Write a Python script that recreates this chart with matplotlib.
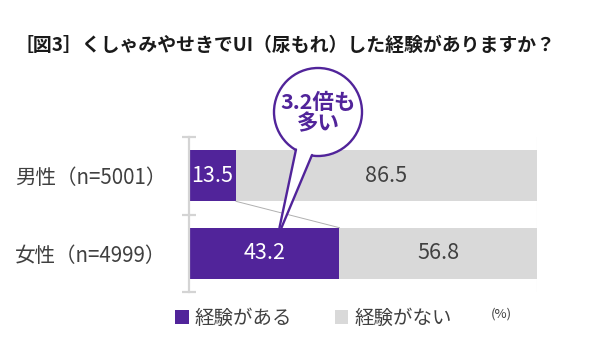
import matplotlib
matplotlib.use("Agg")
import matplotlib.pyplot as plt
from matplotlib.patches import Circle, Polygon
import numpy as np

plt.rcParams['font.family'] = ['Noto Sans CJK JP', 'DejaVu Sans']

title = "［図3］くしゃみやせきでUI（尿もれ）した経験がありますか？"
groups = ["女性（n=4999）", "男性（n=5001）"]
yes_pct = [43.2, 13.5]
no_pct = [56.8, 86.5]
series_names = ["経験がある", "経験がない"]
callout = "3.2倍も\n多い"

PURPLE = "#51249a"
GREY = "#d9d9d9"
TEXT = "#404040"
AXIS = "#d4d4d4"

W, H = 615, 347
fig = plt.figure(figsize=(W / 100, H / 100), dpi=100)

# bar area in pixel layout: x 189..537, y 137..292 (from top)
ax = fig.add_axes([189 / W, (H - 292) / H, 348 / W, 155 / H])
ypos = np.arange(len(groups))
bh = 0.66
b1 = ax.barh(ypos, yes_pct, height=bh, color=PURPLE, label=series_names[0], zorder=2)
b2 = ax.barh(ypos, no_pct, left=yes_pct, height=bh, color=GREY, label=series_names[1], zorder=2)
ax.set_xlim(0, 100)
ax.set_ylim(-0.5, 1.5)
ax.axvline(100, color="#e6e6e6", lw=0.8, zorder=1)

for s in ["top", "right", "bottom"]:
    ax.spines[s].set_visible(False)
ax.spines["left"].set_color(AXIS)
ax.spines["left"].set_linewidth(1.6)
ax.set_xticks([])
ax.set_yticks([-0.5, 0.5, 1.5])
ax.set_yticklabels([])
ax.tick_params(axis="y", which="major", direction="inout", length=9.5, width=1.6, color=AXIS)
ax.set_yticks(ypos, minor=True)
ax.set_yticklabels(groups, minor=True, fontsize=14.8, color=TEXT)
ax.tick_params(axis="y", which="minor", length=0, pad=16)

# segment values
for y, a, b in zip(ypos, yes_pct, no_pct):
    ax.text(a / 2, y, f"{a}", ha="center", va="center", color="white", fontsize=15.5, zorder=3)
    ax.text(a + b / 2, y, f"{b}", ha="center", va="center", color=TEXT, fontsize=15.5, zorder=3)

# thin connector between the purple ends
ax.plot([yes_pct[1], yes_pct[0]], [1 - bh / 2, 0 + bh / 2], color="#b0b0b0", lw=0.7, zorder=3)

# overlay in pixel coordinates for the speech bubble
ov = fig.add_axes([0, 0, 1, 1], facecolor="none")
ov.set_xlim(0, W)
ov.set_ylim(H, 0)
ov.axis("off")

tx, ty = ax.transData.transform((26.0, 0 + bh / 2))
tip = ov.transData.inverted().transform((tx, ty))
cx, cy, r = 318, 112, 44
base1 = np.array([296.0, 149.5])
base2 = np.array([312.0, 155.0])
tip1 = np.array([tip[0], tip[1]])
tip2 = np.array([tip[0] + 2, tip[1]])


def inward(p, q, d=4):
    v = p - q
    return p + v / np.linalg.norm(v) * d


ov.add_patch(Circle((cx, cy), r, facecolor="white", edgecolor=PURPLE, lw=1.7, zorder=4))
ov.add_patch(Polygon([inward(base1, tip1), inward(base2, tip2), tip2, tip1],
                     closed=True, facecolor="white", edgecolor="none", zorder=5))
ov.plot([base1[0], tip1[0]], [base1[1], tip1[1]], color=PURPLE, lw=1.7, zorder=6,
        solid_capstyle="round")
ov.plot([base2[0], tip2[0]], [base2[1], tip2[1]], color=PURPLE, lw=1.7, zorder=6,
        solid_capstyle="round")
ov.text(cx, cy + 1, callout, ha="center", va="center", color=PURPLE, fontsize=15.5,
        fontweight="bold", linespacing=1.05, zorder=7)

fig.text(14 / W, 1 - 45 / H, title, ha="left", va="center", fontsize=13.6,
         fontweight="bold", color="#1a1a1a")

fig.legend(handles=[b1, b2], labels=series_names, loc="center left",
           bbox_to_anchor=(175 / W, 1 - 318 / H), ncol=2, frameon=False,
           fontsize=14, handlelength=0.7, handleheight=0.7, handletextpad=0.3,
           columnspacing=2.2, borderaxespad=0, borderpad=0, labelcolor=TEXT)
fig.text(491 / W, 1 - 314 / H, "(%)", ha="left", va="center", fontsize=9.5, color=TEXT)

fig.savefig("out.png", dpi=100, facecolor="white")
